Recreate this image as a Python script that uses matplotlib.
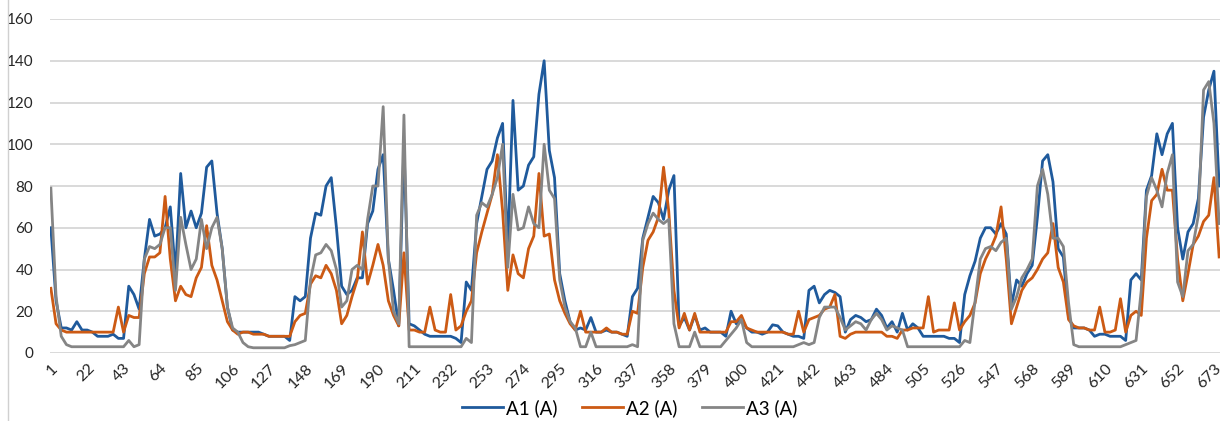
"""
plot.py
-------
Phase currents A1/A2/A3 over ~676 samples, Excel-style line chart.
Values read off the reference picture, one sample every 3 points.
"""

import numpy as np
import matplotlib
matplotlib.use("Agg")
import matplotlib.pyplot as plt
from matplotlib.lines import Line2D

# one row = one tick interval (21 points, sampled every 3)
A1 = [
    60, 25, 12, 12, 11, 15, 11,
    11, 10, 8, 8, 8, 9, 7,
    7, 32, 28, 21, 45, 64, 56,
    57, 60, 70, 38, 86, 60, 68,
    60, 67, 89, 92, 67, 50, 22,
    11, 10, 10, 10, 10, 10, 9,
    8, 8, 8, 8, 6, 27, 25,
    27, 55, 67, 66, 80, 84, 60,
    32, 28, 30, 36, 36, 62, 68,
    88, 95, 45, 30, 13, 100, 14,
    13, 11, 9, 8, 8, 8, 8,
    8, 7, 5, 34, 30, 62, 75,
    88, 92, 103, 110, 50, 121, 78,
    80, 90, 94, 124, 140, 97, 84,
    38, 25, 15, 11, 12, 11, 17,
    10, 10, 11, 10, 10, 9, 8,
    27, 31, 55, 65, 75, 72, 64,
    78, 85, 13, 17, 11, 18, 11,
    12, 10, 10, 10, 8, 20, 14,
    16, 12, 10, 10, 9, 10, 13.5,
    13, 10, 9, 8, 8, 7, 30,
    32, 24, 28, 30, 29, 27, 10,
    16, 18, 17, 15, 16, 21, 18,
    12, 15, 10, 19, 11, 14, 12,
    8, 8, 8, 8, 8, 7, 7,
    5, 28, 37, 44, 55, 60, 60,
    57, 62, 57, 23, 35, 32, 38,
    42, 65, 92, 95, 82, 50, 46,
    17, 12, 12, 12, 11, 8, 9,
    9, 8, 8, 8, 6, 35, 38,
    35, 78, 85, 105, 95, 105, 110,
    60, 45, 58, 62, 74, 113, 126,
    135, 80,
]

A2 = [
    31, 14, 11, 10, 10, 10, 10,
    10, 10, 10, 10, 10, 10, 22,
    10, 18, 17, 17, 38, 46, 46,
    48, 75, 45, 25, 32, 28, 27,
    36, 41, 61, 42, 35, 25, 15,
    11, 9, 10, 10, 9, 9, 9,
    8, 8, 8, 8, 8, 15, 18,
    19, 33, 37, 36, 42, 38, 30,
    14, 18, 27, 35, 58, 33, 42,
    52, 42, 25, 18, 13, 48, 11,
    11, 10, 10, 22, 11, 10, 10,
    28, 11, 13, 20, 25, 48, 58,
    67, 76, 95, 68, 30, 47, 38,
    36, 50, 56, 86, 56, 57, 35,
    25, 19, 14, 11, 20, 10, 10,
    10, 10, 12, 10, 10, 9, 9,
    20, 19, 41, 54, 58, 65, 89,
    68, 30, 12, 19, 11, 19, 10,
    10, 10, 10, 10, 10, 15, 15,
    18, 12, 11, 10, 10, 10, 10,
    10, 10, 9, 9, 20, 10, 16,
    17, 18, 21, 22, 28, 8, 7,
    9, 10, 10, 10, 10, 10, 10,
    8, 8, 7, 11, 11, 12, 12,
    12, 27, 10, 11, 11, 11, 24,
    11, 15, 18, 24, 38, 45, 50,
    56, 70, 45, 14, 22, 30, 34,
    36, 40, 45, 48, 62, 41, 34,
    16, 13, 12, 12, 11, 11, 22,
    10, 10, 11, 26, 10, 18, 20,
    18, 55, 73, 76, 88, 78, 78,
    45, 25, 38, 52, 56, 63, 66,
    84, 46,
]

A3 = [
    79, 27, 8, 4, 3, 3, 3,
    3, 3, 3, 3, 3, 3, 3,
    3, 6, 3, 4, 45, 51, 50,
    52, 60, 60, 30, 65, 52, 40,
    45, 64, 50, 60, 65, 50, 22,
    12, 10, 5, 3, 2.5, 2.5, 2.5,
    2.5, 2.5, 2.5, 2.5, 3.5, 4, 5,
    6, 35, 47, 48, 52, 49, 40,
    22, 25, 40, 42, 40, 64, 80,
    80, 118, 45, 20, 14, 114, 3,
    3, 3, 3, 3, 3, 3, 3,
    3, 3, 3, 7, 5, 66, 72,
    70, 76, 84, 100, 41, 76, 59,
    60, 70, 62, 60, 100, 78, 74,
    35, 22, 15, 12, 3, 3, 10,
    3, 3, 3, 3, 3, 3, 3,
    4, 3, 54, 62, 67, 64, 62,
    64, 14, 3, 3, 3, 10, 3,
    3, 3, 3, 3, 6, 9, 12,
    16, 5, 3, 3, 3, 3, 3,
    3, 3, 3, 3, 4, 5, 4,
    5, 17, 22, 22, 22, 17, 11,
    13, 15, 14, 11, 16, 19, 16,
    11, 13, 12, 11, 3, 3, 3,
    3, 3, 3, 3, 3, 3, 3,
    3, 6, 5, 25, 45, 50, 51,
    49, 53, 55, 21, 27, 36, 40,
    45, 80, 88, 76, 55, 55, 51,
    24, 4, 3, 3, 3, 3, 3,
    3, 3, 3, 3, 4, 5, 6,
    30, 75, 84, 78, 70, 86, 95,
    34, 27, 49, 52, 66, 126, 130,
    110, 62,
]

SERIES = ["A1 (A)", "A2 (A)", "A3 (A)"]
COLORS = ["#1f5a9c", "#cc5a14", "#858585"]

x = np.arange(1, 3 * len(A1), 3)
tick_pos = np.arange(1, 674, 21)

plt.rcParams["font.family"] = ["Lato", "DejaVu Sans"]

fig = plt.figure(figsize=(12.3, 4.21), dpi=100)
ax = fig.add_axes([50 / 1230, 1 - 353 / 421, 1170 / 1230, 334 / 421])

for vals, name, col in zip([A1, A2, A3], SERIES, COLORS):
    ax.plot(x, vals, color=col, linewidth=2.0, label=name, zorder=3,
            solid_joinstyle="round")

ax.set_xlim(0.5, 676.5)
ax.set_ylim(0, 160)
ax.set_yticks(range(0, 161, 20))
ax.set_xticks(tick_pos)
ax.set_xticklabels([str(t) for t in tick_pos], rotation=45, ha="right",
                   rotation_mode="anchor", fontsize=11.5, color="#262626")
ax.tick_params(axis="y", length=0, pad=12, labelsize=11, labelcolor="#262626")
ax.tick_params(axis="x", length=0, pad=6)

ax.grid(True, axis="y", color="#d9d9d9", linewidth=1.4, zorder=0)
for s in ax.spines.values():
    s.set_visible(False)

fig.legend(loc="center", bbox_to_anchor=(0.512, 0.031), ncol=3, frameon=False,
           fontsize=13.5, handlelength=2.2, handletextpad=0.15, columnspacing=1.3)

# chart area border on the left edge
fig.add_artist(Line2D([8 / 1230, 8 / 1230], [0, 1], color="#d0d0d0", linewidth=1))

fig.savefig("out.png", dpi=100)
plt.close(fig)
